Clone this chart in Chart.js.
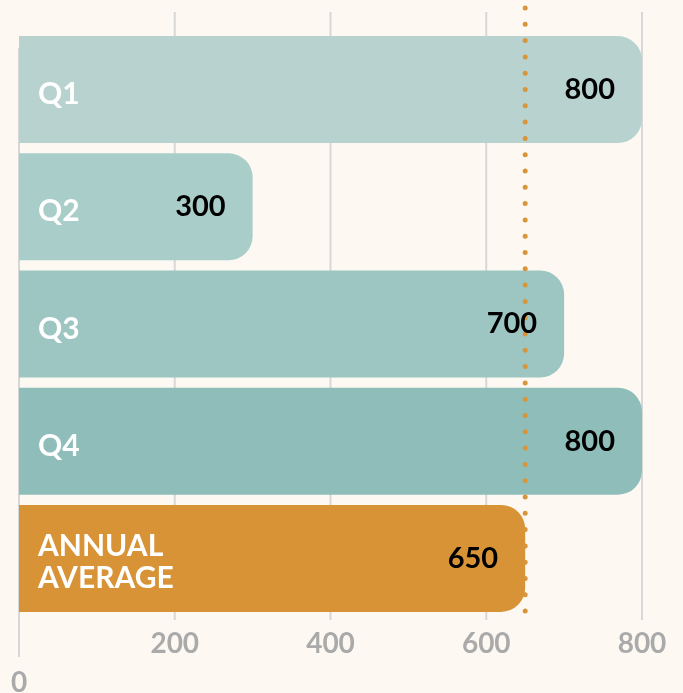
<!DOCTYPE html>
<html>
<head>
<meta charset="utf-8">
<script src="https://cdn.jsdelivr.net/npm/chart.js@4/dist/chart.umd.min.js"></script>
<style>
    html, body { margin: 0; padding: 0; background: #fdf9f2; }
    #wrap { width: 683px; height: 693px; position: relative; }
</style>
</head>
<body>
<div id="wrap"><canvas id="quarterChart"></canvas></div>
<script>
// Data
const categories = ['Q1', 'Q2', 'Q3', 'Q4', ['ANNUAL', 'AVERAGE']];
const salesValues = [800, 300, 700, 800, 650];
const averageValue = 650;
const xTickValues = [0, 200, 400, 600, 800];

// Styles
const barColors = ['#b8d3cf', '#a9cdc9', '#9dc6c2', '#8fbdb9', '#d89337'];
const fontFamily = "Lato, 'Open Sans', sans-serif";

// Gridlines behind the bars (0 line sits a bit lower than the rest)
const gridPlugin = {
    id: 'customGrid',
    beforeDatasetsDraw(chart) {
        const { ctx, chartArea, scales: { x } } = chart;
        ctx.save();
        ctx.strokeStyle = '#d7d7d7';
        ctx.lineWidth = 2;
        x.ticks.forEach(t => {
            const px = x.getPixelForValue(t.value);
            const top = t.value === 0 ? chartArea.top + 17 : chartArea.top - 19;
            const bottom = t.value === 0 ? chartArea.bottom + 40 : chartArea.bottom + 3;
            ctx.beginPath();
            ctx.moveTo(px, top);
            ctx.lineTo(px, bottom);
            ctx.stroke();
        });
        ctx.restore();
    }
};

// Dotted average line + labels inside the bars
const overlayPlugin = {
    id: 'overlay',
    afterDatasetsDraw(chart) {
        const { ctx, chartArea, scales: { x } } = chart;
        const meta = chart.getDatasetMeta(0);

        // average line
        const ax = x.getPixelForValue(averageValue);
        ctx.save();
        ctx.strokeStyle = '#d8953a';
        ctx.lineWidth = 5;
        ctx.lineCap = 'round';
        ctx.setLineDash([0, 16.3]);
        ctx.beginPath();
        ctx.moveTo(ax, chartArea.top - 23);
        ctx.lineTo(ax, chartArea.bottom);
        ctx.stroke();
        ctx.restore();

        ctx.save();
        meta.data.forEach((bar, i) => {
            // category label
            ctx.fillStyle = '#ffffff';
            ctx.font = `bold 30px ${fontFamily}`;
            ctx.textAlign = 'left';
            ctx.textBaseline = 'middle';
            const lbl = chart.data.labels[i];
            const lines = Array.isArray(lbl) ? lbl : [lbl];
            const lh = 32;
            const startY = bar.y + 4 - (lines.length - 1) * lh / 2;
            lines.forEach((ln, j) => {
                ctx.fillText(ln, chartArea.left + 19, startY + j * lh + (lines.length === 1 ? 1 : 0));
            });

            // value label
            ctx.fillStyle = '#000000';
            ctx.font = `bold 29px ${fontFamily}`;
            ctx.textAlign = 'right';
            ctx.fillText(salesValues[i], bar.x - 27, bar.y);
        });
        ctx.restore();
    }
};

const ctx = document.getElementById('quarterChart').getContext('2d');
new Chart(ctx, {
    type: 'bar',
    data: {
        labels: categories,
        datasets: [{
            data: salesValues,
            backgroundColor: barColors,
            borderWidth: 0,
            borderRadius: 24,
            borderSkipped: 'start',
            barPercentage: 0.913,
            categoryPercentage: 1
        }]
    },
    options: {
        indexAxis: 'y',
        responsive: true,
        maintainAspectRatio: false,
        animation: false,
        layout: {
            padding: { left: 19, right: 41, top: 31, bottom: -16 }
        },
        plugins: {
            legend: { display: false },
            tooltip: { enabled: false }
        },
        scales: {
            y: { display: false },
            x: {
                min: 0,
                max: 800,
                afterBuildTicks: scale => {
                    scale.ticks = xTickValues.map(v => ({ value: v }));
                },
                grid: { display: false, drawTicks: false },
                border: { display: false },
                ticks: {
                    autoSkip: false,
                    maxRotation: 0,
                    padding: 7,
                    color: '#aaaaaa',
                    font: { family: fontFamily, size: 28, weight: 'bold', lineHeight: '39px' },
                    callback: v => v === 0 ? ['', '0'] : v
                }
            }
        }
    },
    plugins: [gridPlugin, overlayPlugin]
});
</script>
</body>
</html>
